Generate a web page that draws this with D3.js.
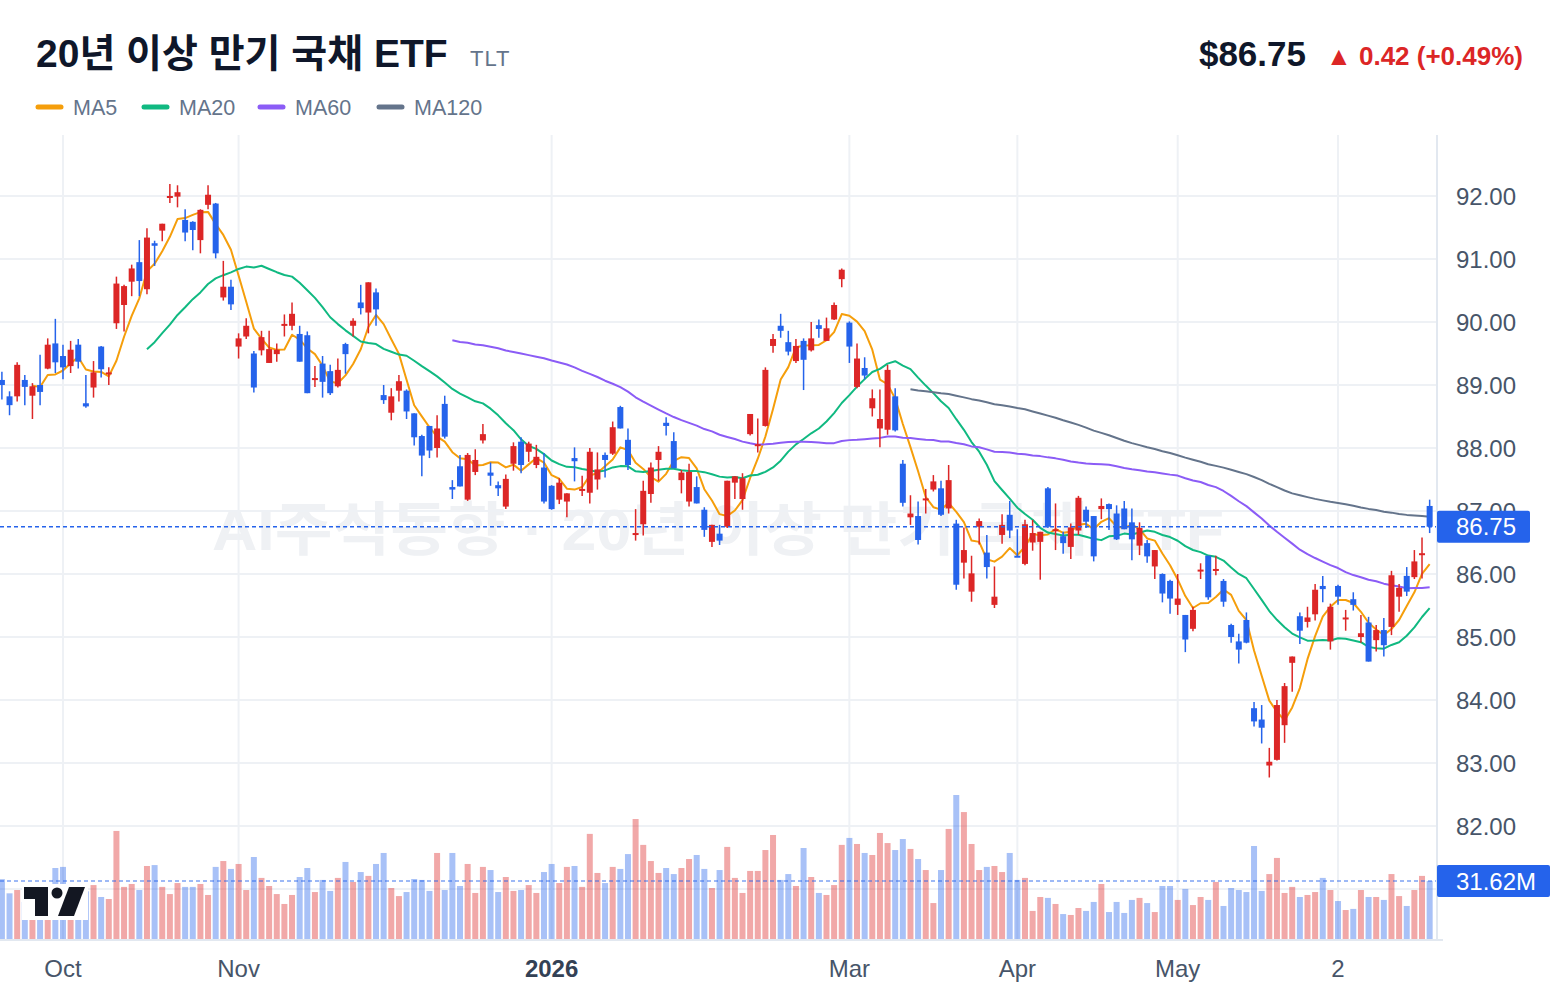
<!DOCTYPE html>
<html><head><meta charset="utf-8">
<script src="https://cdn.jsdelivr.net/npm/d3@7"></script>
<style>
html,body{margin:0;padding:0;background:#fff;}
svg{display:block;font-family:"Liberation Sans","Noto Sans CJK KR",Arial,sans-serif;}
</style>
</head><body>
<svg id="chart" width="1560" height="996"></svg>
<script>
// ---------------- DATA ----------------
const title = "20년 이상 만기 국채 ETF";
const ticker = "TLT";
const lastPriceText = "$86.75";
const changeText = "▲ 0.42 (+0.49%)";
const watermark = "AI주식동향 · 20년 이상 만기 국채 ETF";

const opens = [89.08,88.82,88.82,89.08,88.83,89.00,89.26,89.66,89.46,89.30,89.64,88.71,88.96,89.61,89.18,89.98,90.27,90.64,90.95,90.52,
91.25,91.45,91.98,91.99,91.62,91.59,91.30,91.86,91.88,90.39,90.56,89.61,89.77,89.50,89.55,89.35,89.49,89.95,89.94,89.81,
89.79,89.08,89.34,89.22,88.98,89.65,89.94,90.31,90.15,90.47,88.84,88.56,88.91,88.91,88.55,88.19,88.35,88.00,88.70,87.38,
87.71,87.18,87.62,88.12,87.61,87.41,87.07,87.75,88.10,87.94,87.73,87.69,87.40,87.18,87.15,87.84,87.33,87.29,87.50,87.89,
87.91,88.65,88.13,86.62,86.79,87.27,87.81,88.40,88.11,87.49,87.15,87.38,87.02,86.51,86.64,86.75,87.45,87.19,88.22,88.05,
88.35,89.62,89.94,89.68,89.38,89.70,89.55,89.95,89.70,90.04,90.68,89.99,88.97,89.27,88.63,88.31,88.29,88.82,87.75,86.90,
86.92,87.18,87.34,87.36,87.04,86.80,86.18,85.72,86.75,86.34,85.51,86.62,86.94,86.29,86.16,86.50,86.51,87.36,86.69,86.60,
86.43,86.69,87.02,86.92,87.03,87.11,86.96,87.04,86.82,86.45,86.49,86.12,86.00,85.89,85.51,85.35,85.13,86.05,86.29,86.05,
85.89,85.19,84.93,85.27,83.87,83.69,82.96,83.05,83.60,84.59,85.33,85.24,85.36,85.81,84.93,85.81,85.29,85.60,85.00,85.23,
84.95,85.11,85.16,85.64,85.97,85.95,86.32,87.08];
const highs = [89.21,88.90,89.36,89.16,89.03,89.48,89.74,90.05,89.64,89.70,89.73,89.16,89.38,89.62,89.28,90.72,90.59,90.91,91.30,91.49,
91.29,91.56,92.19,92.17,91.79,91.60,91.79,92.17,91.89,90.97,90.67,89.82,90.06,89.54,89.86,89.86,89.66,90.12,90.31,89.94,
89.85,89.30,89.46,89.32,89.42,89.67,90.06,90.59,90.63,90.53,89.00,88.95,89.16,88.93,88.55,88.21,88.35,88.52,88.83,87.49,
87.89,87.92,87.98,88.38,87.77,87.47,87.58,88.09,88.17,88.10,88.05,87.92,87.41,87.52,87.28,88.01,87.56,88.00,87.93,87.93,
88.42,88.67,88.31,87.03,87.48,87.77,88.03,88.49,88.25,87.65,87.75,87.55,87.06,86.78,86.78,87.48,87.55,87.60,88.54,88.47,
89.28,89.81,90.13,89.86,89.73,89.74,90.00,90.04,90.07,90.31,90.85,90.01,89.66,89.44,88.93,88.93,89.32,88.95,87.81,87.25,
87.15,87.35,87.57,87.48,87.73,86.86,86.74,86.29,86.88,86.62,86.12,86.95,87.16,86.71,86.86,86.86,86.67,87.38,87.12,86.67,
86.80,87.24,87.07,86.92,87.20,87.12,87.09,87.16,87.04,86.82,86.54,86.38,86.01,85.91,86.00,85.35,85.48,86.17,86.29,86.29,
85.92,85.21,85.05,85.39,83.97,83.92,83.24,84.00,84.27,84.69,85.39,85.48,85.84,85.97,85.53,85.83,85.43,85.71,85.35,85.32,
85.19,85.30,86.05,85.84,86.11,86.38,86.58,87.18];
const lows = [88.77,88.52,88.74,88.68,88.46,88.68,89.25,89.19,89.09,89.19,89.26,88.64,88.80,89.12,89.00,89.89,89.85,90.41,90.41,90.44,
90.89,91.28,91.89,91.82,91.28,91.14,91.09,91.79,91.01,90.34,90.19,89.42,89.73,88.88,89.47,89.35,89.37,89.77,89.87,89.37,
88.87,88.97,88.80,88.84,88.96,89.18,89.77,90.12,89.82,89.94,88.70,88.44,88.74,88.46,88.04,87.55,87.84,87.85,88.15,87.19,
87.39,87.16,87.57,88.07,87.40,87.24,87.03,87.64,87.60,87.78,87.68,87.12,87.02,87.11,86.90,87.47,87.24,87.12,87.34,87.53,
87.89,88.31,87.65,86.53,86.61,87.13,87.48,88.20,87.68,87.28,87.07,87.12,86.59,86.43,86.46,86.73,87.19,87.02,88.20,87.93,
88.34,89.51,89.75,89.47,89.35,88.92,89.53,89.75,89.70,90.03,90.55,89.35,88.95,89.09,88.50,88.01,88.21,88.26,87.07,86.78,
86.47,86.96,87.31,86.92,86.96,85.75,85.93,85.56,86.47,85.93,85.46,86.48,86.57,86.27,86.14,86.37,85.91,86.73,86.38,86.32,
86.24,86.62,86.73,86.20,86.87,86.70,86.54,86.71,86.22,86.30,86.18,85.92,85.55,85.37,85.35,84.76,85.09,85.92,85.59,85.98,
85.48,84.91,84.58,84.90,83.58,83.31,82.77,83.04,83.32,84.13,84.89,85.15,85.26,85.55,84.80,85.51,85.10,85.42,84.91,84.61,
84.77,84.69,85.03,85.40,85.65,85.92,85.93,86.65];
const closes = [89.00,88.68,89.32,88.97,88.98,88.89,89.64,89.36,89.28,89.56,89.37,88.66,89.20,89.25,89.20,90.61,90.57,90.85,90.65,91.34,
91.21,91.56,92.00,92.06,91.42,91.46,91.78,92.02,91.09,90.56,90.28,89.74,89.94,88.96,89.76,89.57,89.56,89.97,90.13,89.37,
88.87,89.11,89.05,88.87,89.24,89.49,90.02,90.22,90.63,90.20,88.76,88.82,89.06,88.58,88.17,87.88,87.96,88.31,88.18,87.34,
87.39,87.89,87.81,88.22,87.56,87.36,87.51,88.03,87.73,88.07,87.86,87.15,87.03,87.45,87.28,87.79,87.35,87.94,87.66,87.81,
88.33,88.31,87.73,86.65,87.32,87.69,87.94,88.35,87.68,87.61,87.62,87.12,86.70,86.78,86.53,87.48,87.55,87.52,88.54,88.06,
89.24,89.73,89.86,89.53,89.62,89.40,89.74,89.89,89.90,90.27,90.83,89.61,89.42,89.15,88.79,88.46,89.24,88.28,87.13,86.96,
86.54,87.20,87.47,86.94,87.49,85.83,86.38,86.01,86.84,86.11,85.64,86.78,86.69,86.27,86.79,86.65,86.67,86.75,86.71,86.49,
86.74,87.21,86.83,86.28,87.08,87.03,86.55,86.71,86.55,86.73,86.28,86.38,85.69,85.61,85.61,84.96,85.43,86.07,85.63,86.08,
85.56,85.00,84.80,84.91,83.66,83.56,83.02,83.92,84.22,84.69,85.10,85.31,85.75,85.76,85.48,85.64,85.31,85.51,85.06,84.61,
85.11,84.87,85.98,85.78,85.72,86.20,86.33,86.75];
const volumes = [32.6,24.9,26.7,20.2,21.0,19.0,27.1,38.7,39.3,24.0,26.0,26.0,29.4,22.9,21.8,58.9,28.4,30.0,26.7,39.8,
40.3,28.4,24.5,30.5,28.4,28.4,30.0,24.0,39.3,42.5,38.2,40.9,26.7,44.7,33.3,28.9,24.5,19.1,24.0,33.8,
38.7,25.6,32.2,26.2,33.3,42.0,31.1,36.5,34.4,40.9,46.9,27.8,23.4,25.6,32.7,32.2,26.2,46.9,26.7,46.9,
28.9,40.9,25.1,39.3,37.6,25.6,33.8,26.2,26.7,29.4,25.1,36.5,40.9,30.5,39.3,39.8,28.4,57.3,36.0,30.5,
39.3,38.2,46.3,65.4,51.3,42.5,36.0,38.7,35.4,38.7,43.6,45.8,38.2,27.8,37.6,50.2,33.3,25.1,37.1,37.1,
48.5,56.7,32.2,35.4,28.9,49.6,33.8,25.1,24.0,29.4,51.3,55.1,51.8,46.9,45.8,57.8,52.3,48.5,54.5,49.1,
43.6,37.6,19.6,37.6,60.0,78.5,69.2,51.8,37.6,39.3,39.8,36.5,46.9,32.2,33.3,15.3,22.9,22.4,19.1,13.6,
13.1,16.9,15.3,20.2,30.0,14.7,20.2,14.2,21.3,22.4,19.6,14.7,28.9,28.9,21.3,27.3,18.5,22.9,21.3,31.1,
18.0,27.8,26.7,25.6,50.7,26.2,35.4,44.2,25.1,28.4,22.9,24.0,25.6,33.3,26.7,20.7,15.8,16.4,26.7,22.9,
22.9,21.3,35.4,23.4,18.0,26.7,34.4,31.62];

const xTickIndex = [8, 31, 72, 111, 133, 154, 175];
const xTickLabels = ["Oct", "Nov", "2026", "Mar", "Apr", "May", "2"];
const xTickBold = [false, false, true, false, false, false, false];
const gridPrices = [81, 82, 83, 84, 85, 86, 87, 88, 89, 90, 91, 92];
const priceLabels = [82, 83, 84, 85, 86, 87, 88, 89, 90, 91, 92];
const maPeriods = [5, 20, 60, 120];
const maNames = ["MA5", "MA20", "MA60", "MA120"];
const maColors = ["#f59e0b", "#10b981", "#8b5cf6", "#64748b"];

// ---------------- CHART ----------------
const UP = "#dc2626", DOWN = "#2563eb";
const UP_VOL = "rgba(220,38,38,0.4)", DOWN_VOL = "rgba(37,99,235,0.4)";
const GRID = "#eef1f5";
const plot = {left: 0, right: 1437, top: 135, bottom: 940};

const svg = d3.select("#chart");
const N = closes.length;
const data = d3.range(N).map(i => ({i, o: opens[i], h: highs[i], l: lows[i], c: closes[i], v: volumes[i]}));

const x = d3.scaleLinear().domain([0, N - 1]).range([1.9, 1.9 + 7.635 * (N - 1)]);
const y = d3.scaleLinear().domain([83, 92]).range([763, 196]);
const yVol = d3.scaleLinear().domain([0, 78.5]).range([939, 795]);

// watermark
svg.append("text")
  .attr("x", 718).attr("y", 550)
  .attr("text-anchor", "middle")
  .attr("font-size", 58).attr("font-weight", 700)
  .attr("fill", "#eff1f4")
  .attr("textLength", 1012).attr("lengthAdjust", "spacingAndGlyphs")
  .text(watermark);

// grid
const gGrid = svg.append("g");
gGrid.selectAll("line.h").data(gridPrices).join("line")
  .attr("x1", plot.left).attr("x2", plot.right)
  .attr("y1", d => y(d)).attr("y2", d => y(d))
  .attr("stroke", GRID).attr("stroke-width", 2);
gGrid.selectAll("line.v").data(xTickIndex).join("line")
  .attr("x1", d => x(d)).attr("x2", d => x(d))
  .attr("y1", plot.top).attr("y2", plot.bottom)
  .attr("stroke", GRID).attr("stroke-width", 2);

// volume bars
const bw = 6;
svg.append("g").selectAll("rect").data(data).join("rect")
  .attr("x", d => x(d.i) - bw / 2).attr("width", bw)
  .attr("y", d => yVol(d.v)).attr("height", d => yVol(0) - yVol(d.v))
  .attr("fill", d => d.c >= d.o ? UP_VOL : DOWN_VOL);

// volume last line
svg.append("line")
  .attr("x1", 0).attr("x2", plot.right)
  .attr("y1", yVol(volumes[N - 1])).attr("y2", yVol(volumes[N - 1]))
  .attr("stroke", "rgba(37,99,235,0.45)").attr("stroke-width", 2).attr("stroke-dasharray", "4 3");

// moving averages
const line = d3.line().x(d => x(d.i)).y(d => y(d.v));
maPeriods.forEach((p, k) => {
  const pts = [];
  for (let i = p - 1; i < N; i++) {
    pts.push({i, v: d3.mean(closes.slice(i - p + 1, i + 1))});
  }
  svg.append("path").datum(pts)
    .attr("d", line).attr("fill", "none")
    .attr("stroke", maColors[k]).attr("stroke-width", 2)
    .attr("stroke-linejoin", "round");
});

// candles
const gC = svg.append("g");
gC.selectAll("line").data(data).join("line")
  .attr("x1", d => x(d.i)).attr("x2", d => x(d.i))
  .attr("y1", d => y(d.h)).attr("y2", d => y(d.l))
  .attr("stroke", d => d.c >= d.o ? UP : DOWN).attr("stroke-width", 1.5);
gC.selectAll("rect").data(data).join("rect")
  .attr("x", d => x(d.i) - 3).attr("width", 6)
  .attr("y", d => y(Math.max(d.o, d.c)))
  .attr("height", d => Math.max(2, Math.abs(y(d.o) - y(d.c))))
  .attr("fill", d => d.c >= d.o ? UP : DOWN);

// last price line
const lastC = closes[N - 1];
svg.append("line")
  .attr("x1", 0).attr("x2", plot.right)
  .attr("y1", y(lastC)).attr("y2", y(lastC))
  .attr("stroke", DOWN).attr("stroke-width", 1.5).attr("stroke-dasharray", "4 3");

// borders
svg.append("line").attr("x1", plot.right).attr("x2", plot.right).attr("y1", plot.top).attr("y2", plot.bottom)
  .attr("stroke", "#e2e8f0").attr("stroke-width", 2);
svg.append("line").attr("x1", 0).attr("x2", plot.right + 6).attr("y1", plot.bottom).attr("y2", plot.bottom)
  .attr("stroke", "#e2e8f0").attr("stroke-width", 2);

// price axis labels
svg.append("g").selectAll("text").data(priceLabels).join("text")
  .attr("x", 1456).attr("y", d => y(d)).attr("dy", "0.36em")
  .attr("font-size", 24).attr("fill", "#475569")
  .text(d => d.toFixed(2));

// x axis labels
svg.append("g").selectAll("text").data(xTickIndex).join("text")
  .attr("x", d => x(d)).attr("y", 977)
  .attr("text-anchor", "middle")
  .attr("font-size", 24)
  .attr("font-weight", (d, k) => xTickBold[k] ? 700 : 400)
  .attr("fill", (d, k) => xTickBold[k] ? "#334155" : "#475569")
  .text((d, k) => xTickLabels[k]);

// last price label box
svg.append("rect").attr("x", 1437).attr("y", y(lastC) - 16).attr("width", 93).attr("height", 32)
  .attr("rx", 2).attr("fill", DOWN);
svg.append("text").attr("x", 1486).attr("y", y(lastC)).attr("dy", "0.36em")
  .attr("text-anchor", "middle").attr("font-size", 24).attr("fill", "#fff")
  .text(lastC.toFixed(2));

// volume label box
svg.append("rect").attr("x", 1437).attr("y", yVol(volumes[N - 1]) - 16).attr("width", 113).attr("height", 32)
  .attr("rx", 2).attr("fill", DOWN);
svg.append("text").attr("x", 1496).attr("y", yVol(volumes[N - 1])).attr("dy", "0.36em")
  .attr("text-anchor", "middle").attr("font-size", 24).attr("fill", "#fff")
  .text(volumes[N - 1].toFixed(2) + "M");

// TradingView-like logo
const logo = svg.append("g").attr("transform", "translate(22,884)");
logo.append("rect").attr("x", 0).attr("y", 0).attr("width", 66).attr("height", 36).attr("fill", "#fff");
logo.append("path").attr("d", "M2,3 H26 V32 H13 V15 H2 Z").attr("fill", "#131722");
logo.append("circle").attr("cx", 35).attr("cy", 9).attr("r", 5.5).attr("fill", "#131722");
logo.append("path").attr("d", "M47,3 H63 L52,32 H36 Z").attr("fill", "#131722");

// header
svg.append("text").attr("x", 36).attr("y", 67)
  .attr("font-size", 39).attr("font-weight", 700).attr("fill", "#0f172a")
  .text(title);
svg.append("text").attr("x", 470).attr("y", 66)
  .attr("font-size", 22).attr("fill", "#64748b").attr("letter-spacing", 1)
  .text(ticker);
svg.append("text").attr("x", 1306).attr("y", 66).attr("text-anchor", "end")
  .attr("font-size", 35).attr("font-weight", 700).attr("fill", "#0f172a")
  .text(lastPriceText);
svg.append("text").attr("x", 1523).attr("y", 65).attr("text-anchor", "end")
  .attr("font-size", 26).attr("font-weight", 700).attr("fill", UP)
  .text(changeText);

// legend
const legX = [36, 142, 258, 377];
const leg = svg.append("g");
maNames.forEach((n, k) => {
  leg.append("line").attr("x1", legX[k] + 2).attr("x2", legX[k] + 25)
    .attr("y1", 107).attr("y2", 107)
    .attr("stroke", maColors[k]).attr("stroke-width", 5).attr("stroke-linecap", "round");
  leg.append("text").attr("x", legX[k] + 37).attr("y", 107).attr("dy", "0.36em")
    .attr("font-size", 21.5).attr("fill", "#64748b").text(n);
});
</script>
</body></html>
